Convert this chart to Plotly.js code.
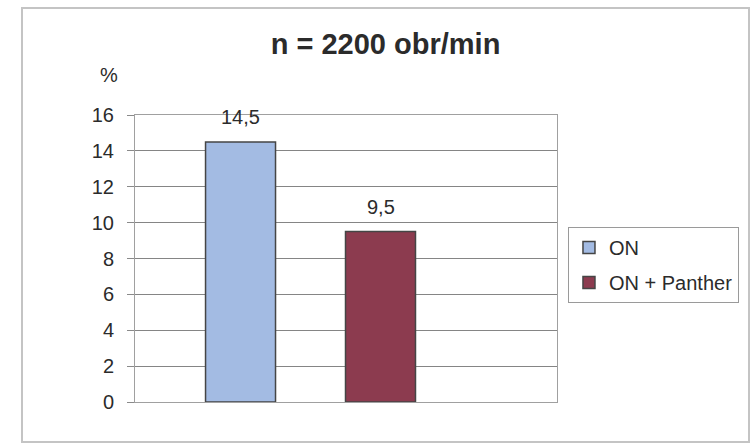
<!DOCTYPE html>
<html>
<head>
<meta charset="utf-8">
<script src="https://cdn.plot.ly/plotly-3.0.1.min.js"></script>
<style>
  html, body { margin: 0; padding: 0; background: #ffffff; }
  #wrap { position: relative; width: 753px; height: 448px; }
  #chart { width: 753px; height: 448px; }
  #frame { position: absolute; left: 21px; top: 7px; width: 725px; height: 432px;
           border: 2px solid #c4c4c4; pointer-events: none; }
</style>
</head>
<body>
<div id="wrap">
  <div id="chart"></div>
  <div id="frame"></div>
</div>
<script>
// ---- data ----
const categories = ["ON", "ON + Panther"];
const values = [14.5, 9.5];
const seriesColors = ["#a3bbe3", "#8c3b4f"];
const chartTitle = "n = 2200 obr/min";
const yUnit = "%";
const yTicks = [0, 2, 4, 6, 8, 10, 12, 14, 16];

const FONT = "Liberation Sans, Arial, sans-serif";
const TXT = "#2b2b2b";

const traces = categories.map((c, i) => ({
  type: "bar",
  name: c,
  x: [c],
  y: [values[i]],
  width: 0.5,
  legendgroup: "g" + i,
  marker: { color: seriesColors[i], line: { color: "#454545", width: 1.5 } },
  hoverinfo: "skip"
}));

const labelAnns = categories.map((c, i) => ({
  xref: "x", yref: "y", x: c, y: values[i],
  text: String(values[i]).replace(".", ","),
  showarrow: false, yanchor: "bottom", yshift: 12,
  font: { family: FONT, size: 20, color: TXT }
}));

const layout = {
  width: 753, height: 448,
  margin: { l: 135, r: 196, t: 115, b: 46 },
  paper_bgcolor: "#ffffff",
  plot_bgcolor: "#ffffff",
  font: { family: FONT, size: 20, color: TXT },
  separators: ", ",
  barmode: "overlay",
  title: {
    text: "<b>" + chartTitle + "</b>",
    font: { family: FONT, size: 29, color: TXT },
    xref: "container", yref: "container",
    x: 0.512, xanchor: "center", y: 0.902, yanchor: "middle"
  },
  xaxis: {
    type: "category",
    categoryarray: categories,
    range: [-0.754, 2.261],
    showticklabels: false,
    ticks: "",
    showgrid: false,
    zeroline: false,
    showline: true, mirror: true, linecolor: "#a0a0a0", linewidth: 1
  },
  yaxis: {
    range: [0, 16],
    tickvals: yTicks,
    ticktext: yTicks.map(String),
    ticks: "outside", ticklen: 7, tickcolor: "#8a8a8a", tickwidth: 1,
    ticklabelstandoff: 9,
    tickfont: { family: FONT, size: 20, color: TXT },
    showgrid: true, gridcolor: "#858585", gridwidth: 1,
    zeroline: false,
    showline: true, mirror: true, linecolor: "#a0a0a0", linewidth: 1
  },
  showlegend: true,
  legend: {
    x: 1.026, xanchor: "left", y: 0.61, yanchor: "top",
    bordercolor: "#9a9a9a", borderwidth: 1, bgcolor: "#ffffff",
    font: { family: FONT, size: 20, color: TXT },
    traceorder: "grouped", tracegroupgap: 6,
    itemwidth: 30
  },
  annotations: [
    ...labelAnns,
    { xref: "paper", yref: "paper", x: -0.062, y: 1.139, text: yUnit,
      showarrow: false, xanchor: "center", yanchor: "middle",
      font: { family: FONT, size: 20, color: TXT } }
  ]
};

Plotly.newPlot("chart", traces, layout, { staticPlot: true, displayModeBar: false });
</script>
</body>
</html>
